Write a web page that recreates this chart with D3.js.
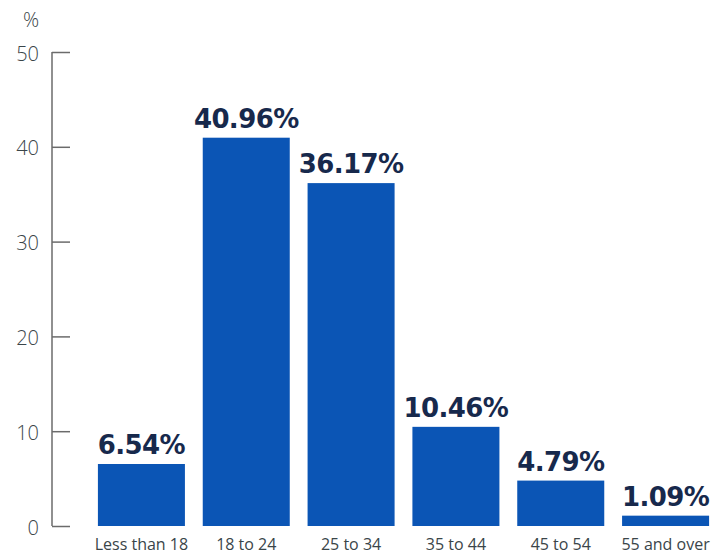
<!DOCTYPE html>
<html>
<head>
<meta charset="utf-8">
<script src="https://cdn.jsdelivr.net/npm/d3@7"></script>
<style>
  body { margin: 0; background: #fff; }
  svg { display: block; }
  .axis path, .axis line { stroke: #6b6b6b; stroke-width: 1.5; }
  .axis text { fill: #3a4549; font-family: 'Open Sans', sans-serif; }
</style>
</head>
<body>
<svg id="chart"></svg>
<script>
const categories = ['Less than 18', '18 to 24', '25 to 34', '35 to 44', '45 to 54', '55 and over'];
const values = [6.54, 40.96, 36.17, 10.46, 4.79, 1.09];
const yTicks = [0, 10, 20, 30, 40, 50];

const width = 714, height = 555;
const svg = d3.select('#chart')
    .attr('width', width)
    .attr('height', height);

const xScale = d3.scaleBand()
    .domain(categories)
    .range([89, 718])
    .paddingInner(0.17)
    .paddingOuter(0.085);

const yScale = d3.scaleLinear()
    .domain([0, 50])
    .range([526, 52]);

// y axis, ticks pointing into the plot
const yAxisG = svg.append('g')
    .attr('class', 'axis y-axis')
    .attr('transform', 'translate(52,0)')
    .call(d3.axisRight(yScale)
        .tickValues(yTicks)
        .tickSize(18)
        .tickSizeOuter(0)
        .tickFormat(d => d));
yAxisG.select('.domain').attr('d', `M0,${yScale(50)}V${yScale(0)}`);
yAxisG.selectAll('.tick text')
    .attr('x', -13)
    .attr('text-anchor', 'end')
    .attr('dy', '0.4em')
    .style('font-size', '20px')
    .style('font-weight', '300');

svg.append('text')
    .attr('x', 31)
    .attr('y', 27)
    .attr('text-anchor', 'middle')
    .style('font-family', "'Open Sans', sans-serif")
    .style('font-weight', '300')
    .style('font-size', '20px')
    .style('fill', '#3a4549')
    .text('%');

// bars
svg.selectAll('.bar')
    .data(values)
  .join('rect')
    .attr('class', 'bar')
    .attr('x', (d, i) => xScale(categories[i]))
    .attr('width', xScale.bandwidth())
    .attr('y', d => yScale(d))
    .attr('height', d => yScale(0) - yScale(d))
    .style('fill', '#0b55b5');

// value labels
svg.selectAll('.value-label')
    .data(values)
  .join('text')
    .attr('class', 'value-label')
    .attr('x', (d, i) => xScale(categories[i]) + xScale.bandwidth() / 2)
    .attr('y', d => yScale(d) - 10)
    .attr('text-anchor', 'middle')
    .style('font-family', "'DejaVu Sans', sans-serif")
    .style('font-weight', 'bold')
    .style('font-size', '26px')
    .style('letter-spacing', '-0.6px')
    .style('fill', '#17294c')
    .text(d => d.toFixed(2) + '%');

// category labels
svg.selectAll('.cat-label')
    .data(categories)
  .join('text')
    .attr('class', 'cat-label')
    .attr('x', d => xScale(d) + xScale.bandwidth() / 2)
    .attr('y', 550)
    .attr('text-anchor', 'middle')
    .style('font-family', "'Open Sans', sans-serif")
    .style('font-size', '16px')
    .style('fill', '#3a4549')
    .text(d => d);
</script>
</body>
</html>
